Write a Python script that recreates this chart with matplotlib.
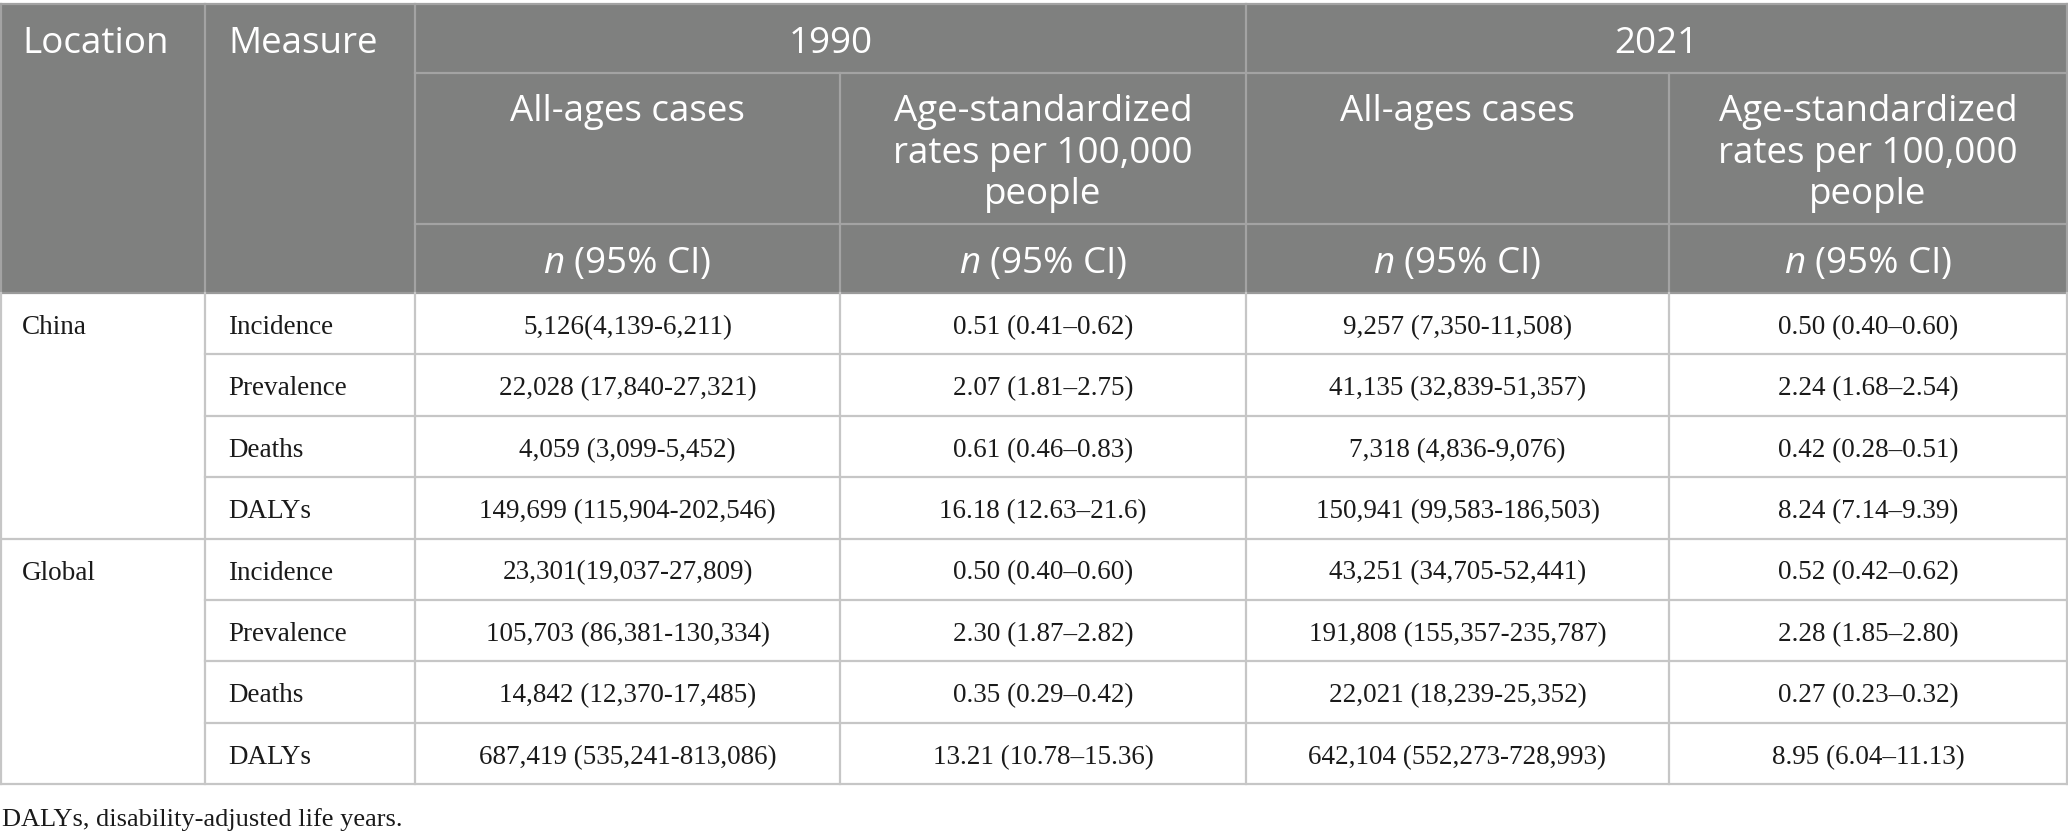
import matplotlib
matplotlib.use("Agg")
import matplotlib.pyplot as plt
from matplotlib.patches import Rectangle

# ---------------- data ----------------
locations = ["China", "Global"]
measures = ["Incidence", "Prevalence", "Deaths", "DALYs"]
years = ["1990", "2021"]
sub_headers = [["All-ages cases"], ["Age-standardized", "rates per 100,000", "people"]]
cases_1990 = ["5,126(4,139-6,211)", "22,028 (17,840-27,321)", "4,059 (3,099-5,452)",
              "149,699 (115,904-202,546)",
              "23,301(19,037-27,809)", "105,703 (86,381-130,334)", "14,842 (12,370-17,485)",
              "687,419 (535,241-813,086)"]
rates_1990 = ["0.51 (0.41–0.62)", "2.07 (1.81–2.75)", "0.61 (0.46–0.83)", "16.18 (12.63–21.6)",
              "0.50 (0.40–0.60)", "2.30 (1.87–2.82)", "0.35 (0.29–0.42)", "13.21 (10.78–15.36)"]
cases_2021 = ["9,257 (7,350-11,508)", "41,135 (32,839-51,357)", "7,318 (4,836-9,076)",
              "150,941 (99,583-186,503)",
              "43,251 (34,705-52,441)", "191,808 (155,357-235,787)", "22,021 (18,239-25,352)",
              "642,104 (552,273-728,993)"]
rates_2021 = ["0.50 (0.40–0.60)", "2.24 (1.68–2.54)", "0.42 (0.28–0.51)", "8.24 (7.14–9.39)",
              "0.52 (0.42–0.62)", "2.28 (1.85–2.80)", "0.27 (0.23–0.32)", "8.95 (6.04–11.13)"]
footnote = "DALYs, disability-adjusted life years."

# ---------------- layout ----------------
W, H = 2068, 836
plt.rcParams['mathtext.fontset'] = 'custom'
plt.rcParams['mathtext.it'] = 'Open Sans:italic'
plt.rcParams['mathtext.rm'] = 'Open Sans'

fig = plt.figure(figsize=(W / 100, H / 100), dpi=100)
ax = fig.add_axes([0, 0, 1, 1])
ax.set_xlim(0, W)
ax.set_ylim(H, 0)
ax.axis('off')

cols = [1, 205, 415, 840, 1246, 1669, 2067]
top, r1, r2, hb = 4, 73, 224, 293
bottom = 784
nrows = 8
rh = (bottom - hb) / nrows

hdr_bg = '#7f807f'
hdr_line = '#a3a3a3'
body_line = '#c6c6c6'
sans = 'Open Sans'
serif = 'Liberation Serif'
hsize = 26.5
bsize = 19.5

ax.add_patch(Rectangle((cols[0], top), cols[-1] - cols[0], hb - top, facecolor=hdr_bg,
                       edgecolor='none', zorder=1))
lw = 1.6
# header lines
ax.plot([cols[0], cols[-1]], [top, top], color=hdr_line, lw=lw, zorder=2)
for x in [cols[0], cols[1], cols[2], cols[4], cols[6]]:
    ax.plot([x, x], [top, hb], color=hdr_line, lw=lw, zorder=2)
for x in [cols[3], cols[5]]:
    ax.plot([x, x], [r1, hb], color=hdr_line, lw=lw, zorder=2)
for y in [r1, r2]:
    ax.plot([cols[2], cols[6]], [y, y], color=hdr_line, lw=lw, zorder=2)
ax.plot([cols[0], cols[-1]], [hb, hb], color='#9a9a9a', lw=lw, zorder=2)

# body lines
for x in cols:
    ax.plot([x, x], [hb, bottom], color=body_line, lw=lw, zorder=2)
for i in range(1, nrows):
    y = hb + i * rh
    x0 = cols[0] if i == len(measures) else cols[1]
    ax.plot([x0, cols[-1]], [y, y], color=body_line, lw=lw, zorder=2)
ax.plot([cols[0], cols[-1]], [bottom, bottom], color=body_line, lw=lw, zorder=2)

# header text
hy = 53
ax.text(22, hy, "Location", color='white', fontsize=hsize, family=sans, va='baseline', ha='left')
ax.text(228, hy, "Measure", color='white', fontsize=hsize, family=sans, va='baseline', ha='left')
for k, yr in enumerate(years):
    cx = (cols[2 + 2 * k] + cols[4 + 2 * k]) / 2
    ax.text(cx, hy, yr, color='white', fontsize=hsize, family=sans, va='baseline', ha='center')
for k in range(4):
    cx = (cols[2 + k] + cols[3 + k]) / 2
    for j, line in enumerate(sub_headers[k % 2]):
        ax.text(cx, 121 + j * 41.5, line, color='white', fontsize=hsize, family=sans,
                va='baseline', ha='center')
    ax.text(cx, 273, r"$\it{n}$ (95% CI)", color='white', fontsize=hsize, family=sans,
            va='baseline', ha='center')

# body text
columns = [cases_1990, rates_1990, cases_2021, rates_2021]
for i in range(nrows):
    yb = hb + i * rh + 41
    if i % len(measures) == 0:
        ax.text(22, yb, locations[i // len(measures)], fontsize=bsize, family=serif,
                color='#1a1a1a', va='baseline', ha='left')
    ax.text(228, yb, measures[i % len(measures)], fontsize=bsize, family=serif,
            color='#1a1a1a', va='baseline', ha='left')
    for k, col in enumerate(columns):
        cx = (cols[2 + k] + cols[3 + k]) / 2
        ax.text(cx, yb, col[i], fontsize=bsize, family=serif, color='#1a1a1a',
                va='baseline', ha='center')

ax.text(2, 826, footnote, fontsize=19, family=serif, color='#1a1a1a', va='baseline', ha='left')

fig.savefig('out.png', dpi=100, facecolor='white')
